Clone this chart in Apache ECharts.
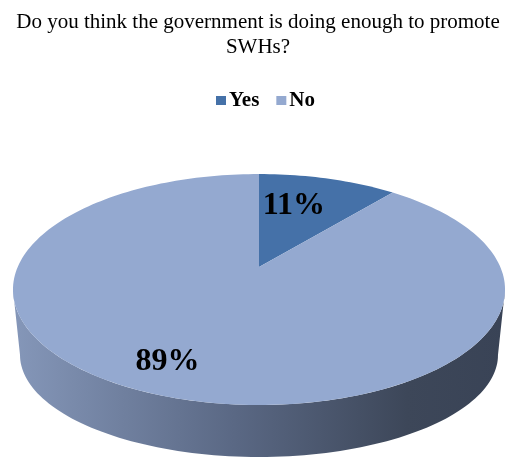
<!DOCTYPE html>
<html>
<head>
<meta charset="utf-8">
<script src="https://cdn.jsdelivr.net/npm/echarts@6/dist/echarts.min.js"></script>
<style>
  html, body { margin: 0; padding: 0; background: #ffffff; }
  #chart { width: 506px; height: 460px; }
</style>
</head>
<body>
<div id="chart"></div>
<script>
// Survey answers
const titleText = 'Do you think the government is doing enough to promote\nSWHs?';
const categories = ['Yes', 'No'];
const values = [11, 89];
const sliceColors = ['#4571A8', '#94A9D0'];

const total = values.reduce((a, b) => a + b, 0);
const SERIF = '"Liberation Serif", "Times New Roman", serif';

// Perspective view of a tilted disc: the top rim and the bottom rim of the pie
const K = 0.195;                       // perspective strength (near side looks larger)
const TOP = { cx: 259, cy: 267, a: 241.3, b: 111.1 };
const BOTTOM = { cx: 259, cy: 335.1, a: 234.4, b: 98.1 };
const DEG = Math.PI / 180;

// angle measured clockwise from 12 o'clock, r in 0..1 of the radius
function project(face, theta, r) {
  const u = Math.sin(theta * DEG) * r;
  const v = -Math.cos(theta * DEG) * r;
  const s = 1 / (1 - K * v);
  return [face.cx + face.a * u * s, face.cy + face.b * v * s];
}
function arc(face, t0, t1) {
  const n = Math.max(2, Math.ceil(Math.abs(t1 - t0) / 1.5));
  const pts = [];
  for (let i = 0; i <= n; i++) pts.push(project(face, t0 + (t1 - t0) * i / n, 1));
  return pts;
}
// the outer wall is visible between the two silhouette points
const visFrom = 180 - Math.acos(K) / DEG;
const visTo = 180 + Math.acos(K) / DEG;

const sideFill = {
  type: 'linear', x: 13, y: 0, x2: 505, y2: 0, global: true,
  colorStops: [
    { offset: 0, color: '#8597B9' },
    { offset: 0.45, color: '#5A6884' },
    { offset: 0.8, color: '#3D4759' },
    { offset: 1, color: '#394356' }
  ]
};

// where each percentage sits: fraction along the slice's sweep and radius
const labelPlace = [{ frac: 0.37, r: 0.64 }, { frac: 0.513, r: 0.8 }];

function makeRender(i) {
  return function (params, api) {
    const before = values.slice(0, i).reduce((a, b) => a + b, 0);
    const start = before / total * 360;
    const end = start + api.value(0) / total * 360;
    const children = [];
    const s0 = Math.max(start, visFrom), s1 = Math.min(end, visTo);
    if (s1 > s0) {
      const wall = arc(TOP, s0, s1).concat(arc(BOTTOM, s0, s1).reverse());
      children.push({ type: 'polygon', z2: 1, shape: { points: wall }, style: { fill: sideFill } });
    }
    const face = [project(TOP, 0, 0)].concat(arc(TOP, start, end));
    children.push({ type: 'polygon', z2: 5, shape: { points: face }, style: { fill: api.visual('color') } });
    const lp = labelPlace[i];
    const pos = project(TOP, start + (end - start) * lp.frac, lp.r);
    children.push({
      type: 'text', z2: 10,
      style: {
        text: Math.round(api.value(0) / total * 100) + '%',
        x: pos[0], y: pos[1],
        align: 'center', verticalAlign: 'middle',
        font: 'bold 32px ' + SERIF, fill: '#000000'
      }
    });
    return { type: 'group', children: children };
  };
}

const chart = echarts.init(document.getElementById('chart'), null, { renderer: 'canvas' });
chart.setOption({
  animation: false,
  backgroundColor: '#ffffff',
  graphic: [{
    type: 'text',
    x: 258,
    y: 10,
    silent: true,
    style: {
      text: titleText,
      font: '21px ' + SERIF,
      fill: '#000000',
      align: 'center',
      verticalAlign: 'top',
      lineHeight: 25
    }
  }],
  legend: {
    data: categories,
    top: 85,
    left: 211,
    icon: 'rect',
    itemWidth: 10,
    itemHeight: 9,
    itemGap: 17,
    textStyle: { fontFamily: SERIF, fontSize: 21, fontWeight: 'bold', color: '#000000', padding: [0, 0, 0, -2] }
  },
  series: categories.map((name, i) => ({
    type: 'custom',
    name: name,
    coordinateSystem: 'none',
    silent: true,
    itemStyle: { color: sliceColors[i] },
    data: [values[i]],
    renderItem: makeRender(i)
  }))
});
</script>
</body>
</html>
